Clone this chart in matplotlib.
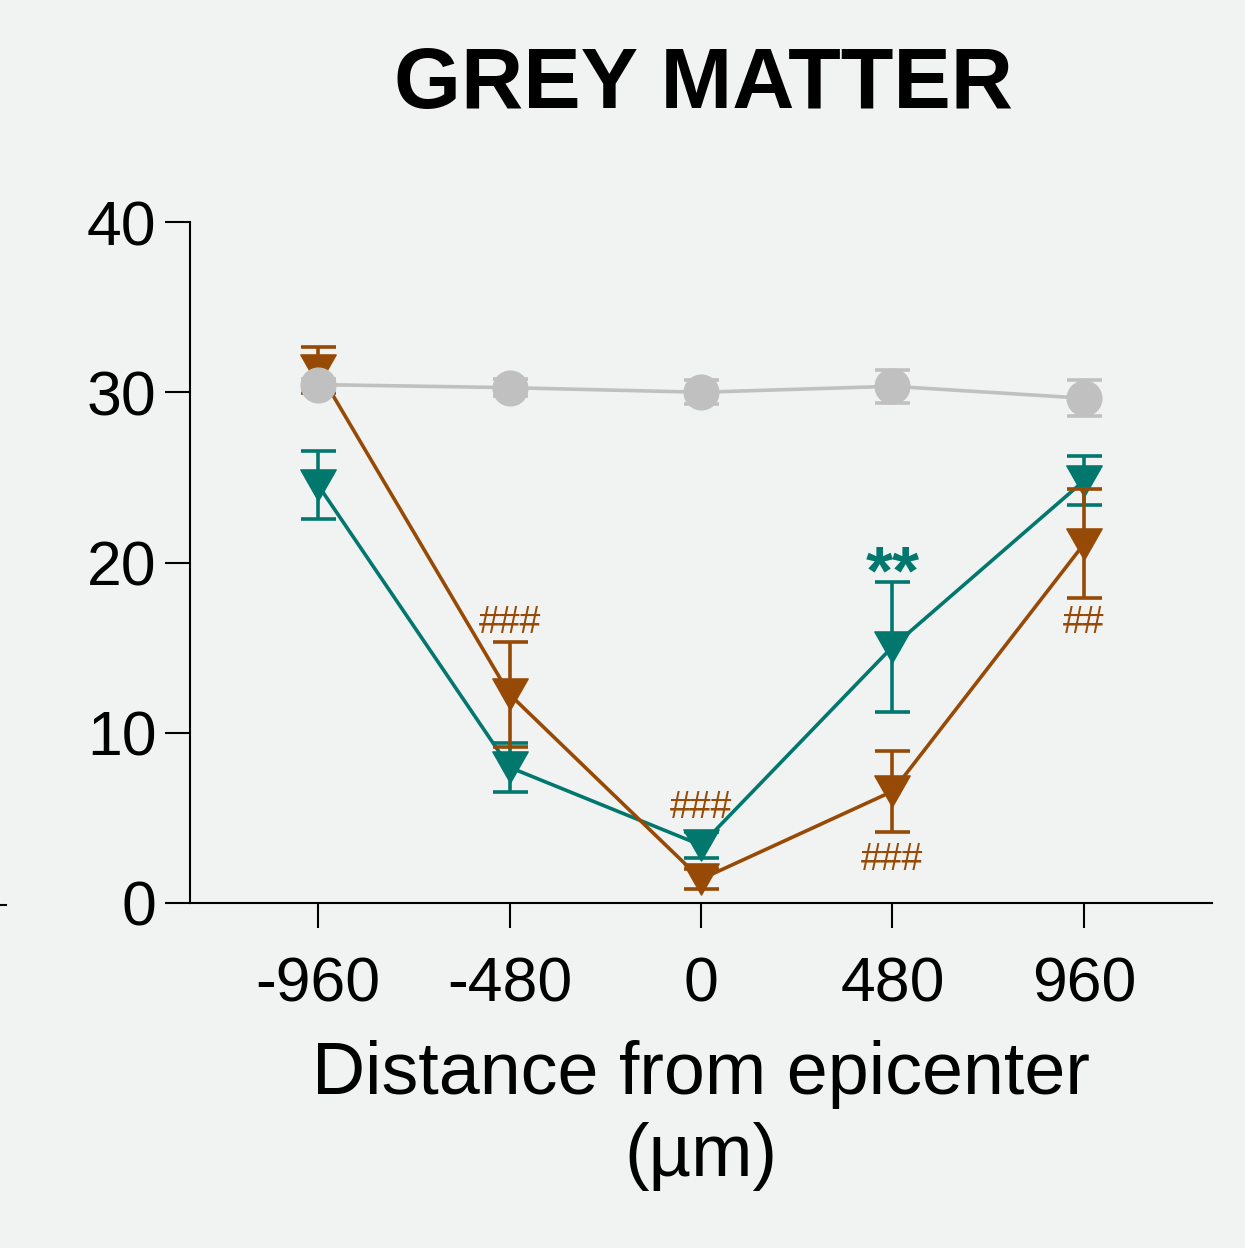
import matplotlib
matplotlib.use("Agg")
import matplotlib.pyplot as plt
from matplotlib.path import Path
from matplotlib.lines import Line2D

plt.rcParams['font.family'] = ['Liberation Sans', 'DejaVu Sans']

# ---- data ----
distance = [-960, -480, 0, 480, 960]
xtick_labels = ['-960', '-480', '0', '480', '960']
yticks = [0, 10, 20, 30, 40]

sham_mean = [30.45, 30.27, 30.0, 30.35, 29.65]
sham_sem = [0.3, 0.5, 0.71, 0.97, 1.06]

teal_mean = [24.55, 7.97, 3.4, 15.05, 24.8]
teal_sem = [2.0, 1.44, 0.76, 3.82, 1.44]

brown_mean = [31.3, 12.26, 1.4, 6.56, 21.09]
brown_sem = [1.33, 3.08, 0.6, 2.38, 3.2]

# annotations: (x, text, baseline y, colour key)
annot_x = [-480, 0, 480, 960, 480]
annot_text = ['###', '###', '###', '##', '**']
annot_y = [15.85, 4.99, 1.94, 15.85, 18.2]
annot_series = ['brown', 'brown', 'brown', 'brown', 'teal']

# ---- style ----
BG = '#F1F3F2'
TEAL = '#02776E'
BROWN = '#974A05'
GREY = '#C0C0C0'
colors = {'teal': TEAL, 'brown': BROWN}

tri = Path([(-1.0, 0.88), (1.0, 0.88), (0.0, -0.88), (-1.0, 0.88)],
           [Path.MOVETO, Path.LINETO, Path.LINETO, Path.CLOSEPOLY])

W, H = 1245, 1248
fig = plt.figure(figsize=(W / 100, H / 100), dpi=100, facecolor=BG)
ax = fig.add_axes([190 / W, 1 - 903 / H, (1212 - 190) / W, (903 - 222) / H])
ax.set_facecolor(BG)

lw = 2.6
common = dict(elinewidth=lw, capthick=lw, capsize=12.6, linewidth=lw)
series = [
    (teal_mean, teal_sem, TEAL, tri, 25.5, 3),
    (brown_mean, brown_sem, BROWN, tri, 25.5, 4),
    (sham_mean, sham_sem, GREY, 'o', 25, 5),
]
for mean, sem, col, mk, ms, z in series:
    ax.errorbar(distance, mean, yerr=sem, color=col, fmt='-', zorder=z, **common)
    ax.plot(distance, mean, linestyle='none', marker=mk, markersize=ms,
            color=col, markeredgecolor=col, markeredgewidth=1, zorder=z + 0.5)

for x, t, y, s in zip(annot_x, annot_text, annot_y, annot_series):
    if t.startswith('*'):
        ax.text(x, y, t, color=colors[s], fontsize=50, fontweight='bold',
                ha='center', va='baseline', zorder=6)
    else:
        ax.text(x, y, t, color=colors[s], fontsize=27,
                ha='center', va='baseline', zorder=6)

ax.set_xlim(-1281, 1281)
ax.set_ylim(0, 40)
ax.set_xticks(distance)
ax.set_xticklabels(xtick_labels)
ax.set_yticks(yticks)
ax.set_yticklabels([str(v) for v in yticks])

for side in ['top', 'right']:
    ax.spines[side].set_visible(False)
for side in ['left', 'bottom']:
    ax.spines[side].set_linewidth(1.5)
    ax.spines[side].set_color('black')

ax.tick_params(axis='both', length=18, width=1.5, labelsize=45, color='black')
ax.tick_params(axis='y', pad=6)
ax.tick_params(axis='x', pad=20)

ax.set_xlabel('Distance from epicenter\n(µm)', fontsize=53, labelpad=18,
              linespacing=1.25)

fig.text(704 / W, 1 - 86 / H, 'GREY MATTER', fontsize=62, fontweight='bold',
         ha='center', va='center')

fig.add_artist(Line2D([0, 6 / W], [1 - 905 / H, 1 - 905 / H], color='black',
                      linewidth=1.5, transform=fig.transFigure))

fig.savefig('out.png', dpi=100, facecolor=BG)
